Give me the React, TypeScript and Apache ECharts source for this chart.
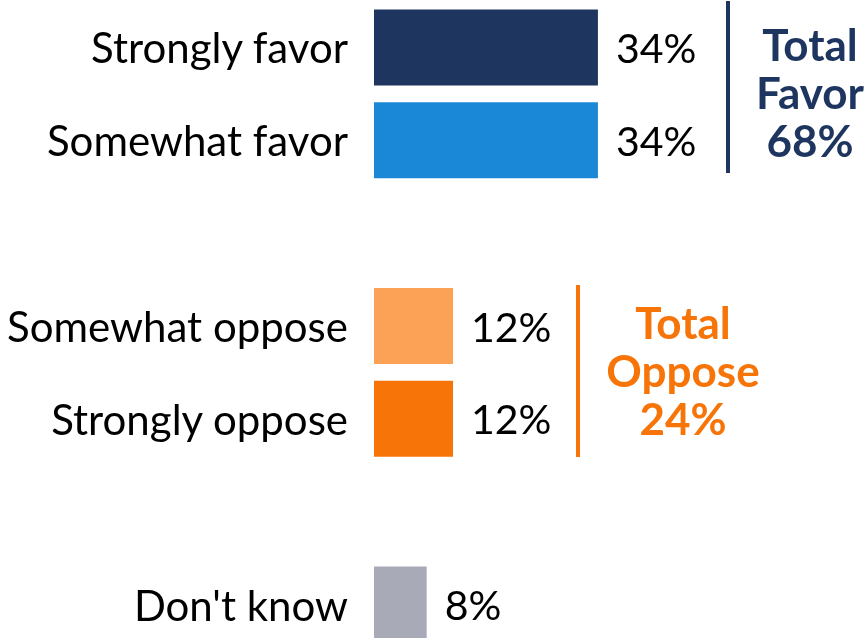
import React, { useEffect, useRef } from "react";
import * as echarts from "echarts";

const categories = ["Strongly favor", "Somewhat favor", "", "Somewhat oppose", "Strongly oppose", " ", "Don't know"];
const values: (number | null)[] = [34, 34, null, 12, 12, null, 8];
const barColors = ["#1d355f", "#1a88d6", "#ffffff", "#fba257", "#f77408", "#ffffff", "#a9aab8"];
const totalFavor = 68;
const totalOppose = 24;

const FONT = "Lato, 'Open Sans', sans-serif";

export default function App() {
  const ref = useRef<HTMLDivElement>(null);
  useEffect(() => {
    if (!ref.current) return;
    const chart = echarts.init(ref.current, undefined, { renderer: "svg" });
    chart.setOption({
      animation: false,
      grid: { left: 374, top: 1, width: 461, bottom: 0 },
      xAxis: { type: "value", min: 0, max: 70, show: false },
      yAxis: {
        type: "category",
        data: categories,
        inverse: true,
        axisLine: { show: false },
        axisTick: { show: false },
        splitLine: { show: false },
        axisLabel: { fontSize: 42, color: "#000", margin: 26, fontFamily: FONT },
      },
      series: [
        {
          type: "bar",
          barWidth: 76,
          data: values.map((v, i) => ({ value: v === null ? "-" : v, itemStyle: { color: barColors[i] } })),
          label: {
            show: true,
            position: "right",
            distance: 18,
            formatter: (p: any) => (typeof p.value === "number" ? p.value + "%" : ""),
            fontSize: 41,
            color: "#000",
            fontFamily: FONT,
          },
        },
      ],
      graphic: [
        { type: "rect", shape: { x: 726, y: 1, width: 4, height: 172 }, style: { fill: "#1d355f" } },
        { type: "rect", shape: { x: 576, y: 285, width: 4, height: 172 }, style: { fill: "#f77408" } },
        {
          type: "text",
          x: 810,
          y: 92,
          style: {
            text: "Total\nFavor\n" + totalFavor + "%",
            fill: "#1d355f",
            fontSize: 44,
            fontWeight: "bold",
            fontFamily: FONT,
            lineHeight: 48,
            align: "center",
            verticalAlign: "middle",
          },
        },
        {
          type: "text",
          x: 683,
          y: 370,
          style: {
            text: "Total\nOppose\n" + totalOppose + "%",
            fill: "#f77408",
            fontSize: 44,
            fontWeight: "bold",
            fontFamily: FONT,
            lineHeight: 48,
            align: "center",
            verticalAlign: "middle",
          },
        },
      ],
    });
    return () => chart.dispose();
  }, []);
  return <div ref={ref} style={{ position: "fixed", left: 0, top: 0, width: 865, height: 651 }} />;
}
